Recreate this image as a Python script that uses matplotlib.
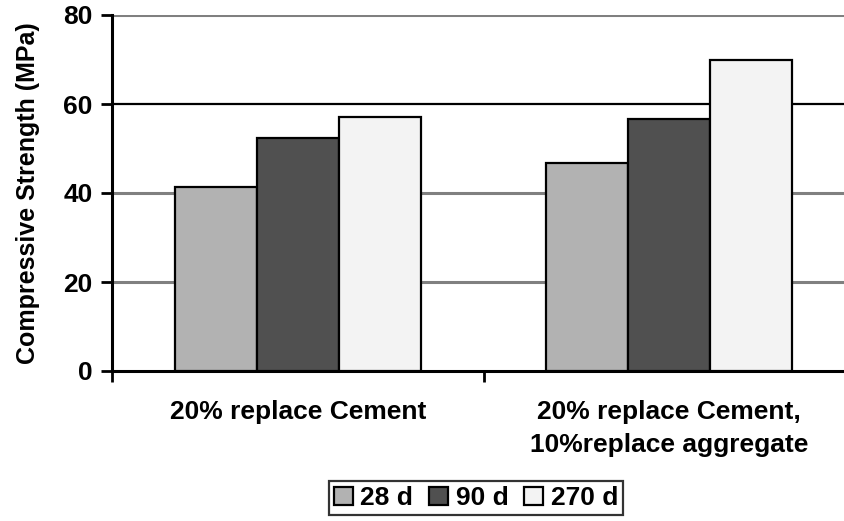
import matplotlib.pyplot as plt
import numpy as np

plt.rcParams['font.family'] = ['Liberation Sans', 'DejaVu Sans']
plt.rcParams['font.weight'] = 'bold'

categories = ["20% replace Cement", "20% replace Cement,\n10%replace aggregate"]
series = ["28 d", "90 d", "270 d"]
strength_28 = [41.4, 46.8]
strength_90 = [52.4, 56.6]
strength_270 = [57.0, 70.0]
y_ticks = [0, 20, 40, 60, 80]

colors = ["#b2b2b2", "#505050", "#f3f3f3"]

fig = plt.figure(figsize=(8.44, 5.21), dpi=100)
ax = fig.add_axes([112 / 844, 1 - 371 / 521, 743 / 844, 356 / 521])

x = np.arange(len(categories))
w = 0.221
for i, (vals, name) in enumerate(zip([strength_28, strength_90, strength_270], series)):
    ax.bar(x + (i - 1) * w, vals, w, color=colors[i], edgecolor="black",
           linewidth=1.6, label=name, zorder=3)

# horizontal gridlines (60 appears darker in the original)
grid_colors = {20: "#808080", 40: "#808080", 60: "black", 80: "#808080"}
for yv, c in grid_colors.items():
    ax.axhline(yv, color=c, linewidth=2.2 if c != "black" else 1.6, zorder=1)

ax.set_xlim(-0.5, 1.5)
ax.set_ylim(0, 80)
ax.set_yticks(y_ticks)
ax.set_yticklabels([str(v) for v in y_ticks], fontsize=19, fontweight="bold")
ax.set_xticks(x)
ax.set_xticklabels(categories, fontsize=19, fontweight="bold", linespacing=1.45)
ax.set_xticks([-0.5, 0.5, 1.5], minor=True)
ax.tick_params(axis="x", which="major", length=0, pad=21)
ax.tick_params(axis="x", which="minor", length=8, width=2, direction="out")
ax.tick_params(axis="y", length=8, width=2, direction="out", pad=6)

ax.set_ylabel("Compressive Strength (MPa)", fontsize=18, fontweight="bold")
ax.yaxis.set_label_coords(-0.097, 0.5)

for s in ["top", "right"]:
    ax.spines[s].set_visible(False)
ax.spines["left"].set_linewidth(2.2)
ax.spines["bottom"].set_linewidth(2.2)

leg = fig.legend(loc="center", bbox_to_anchor=(476 / 844, 1 - 498 / 521), ncol=3,
                 frameon=True, fancybox=False, edgecolor="black",
                 prop={"size": 19, "weight": "bold"},
                 handlelength=0.7, handleheight=0.7, handletextpad=0.3,
                 columnspacing=0.6, borderpad=0.2, borderaxespad=0)
leg.get_frame().set_linewidth(1.6)

fig.savefig("out.png", dpi=100)
